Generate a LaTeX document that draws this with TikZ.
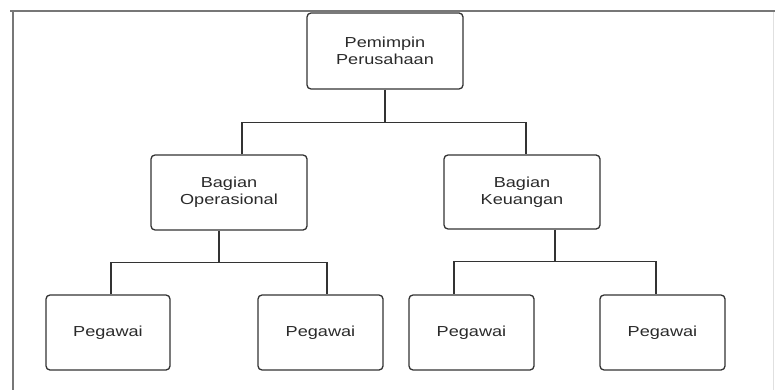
\documentclass[tikz,border=0pt]{standalone}
\usepackage{fontspec}
\setmainfont{Liberation Sans}[FakeStretch=1.25]
\definecolor{boxline}{HTML}{333333}
\definecolor{txt}{HTML}{2A2A2A}
\definecolor{frame}{HTML}{777777}
\tikzset{
  orgbox/.style={draw=boxline, line width=1.3pt, rounded corners=4pt, align=center,
    text=txt, font=\fontsize{14.5}{17}\selectfont, inner sep=0pt, minimum height=75pt},
  wide/.style={minimum width=156pt},
  narrow/.style={minimum width=125pt},
  link/.style={draw=boxline, line width=1.3pt},
  frameline/.style={draw=frame, line width=2pt}
}
\begin{document}
\begin{tikzpicture}[x=1pt,y=-1pt]
\useasboundingbox (0,0) rectangle (775,390);
% frame
\draw[frameline] (10,11) -- (775,11);
\draw[frameline] (12.5,12) -- (12.5,390);
\draw[draw=black!12, line width=1pt] (773.5,12) -- (773.5,390);
% nodes
\node[orgbox, wide, minimum height=76pt] (top) at (385,51) {Pemimpin\\Perusahaan};
\node[orgbox, wide] (ml) at (229,192.5) {Bagian\\Operasional};
\node[orgbox, wide, minimum height=74pt] (mr) at (522,192) {Bagian\\Keuangan};
\node[orgbox, narrow, minimum width=124pt] (b1) at (108,332.5) {Pegawai};
\node[orgbox, narrow] (b2) at (320.5,332.5) {Pegawai};
\node[orgbox, narrow] (b3) at (471.5,332.5) {Pegawai};
\node[orgbox, narrow] (b4) at (662.5,332.5) {Pegawai};
% connectors
\draw[link] (top.south) -- ++(0,33) coordinate (j1);
\draw[link] ([xshift=13pt]ml.north) |- (j1) -| ([xshift=4pt]mr.north);
\draw[link] ([xshift=-10pt]ml.south) -- ++(0,32) coordinate (j2);
\draw[link] ([xshift=3pt]b1.north) |- (j2) -| ([xshift=6.5pt]b2.north);
\draw[link] ([xshift=33pt]mr.south) -- ++(0,32) coordinate (j3);
\draw[link] ([xshift=-17.5pt]b3.north) |- (j3) -| ([xshift=-6.5pt]b4.north);
\end{tikzpicture}
\end{document}
